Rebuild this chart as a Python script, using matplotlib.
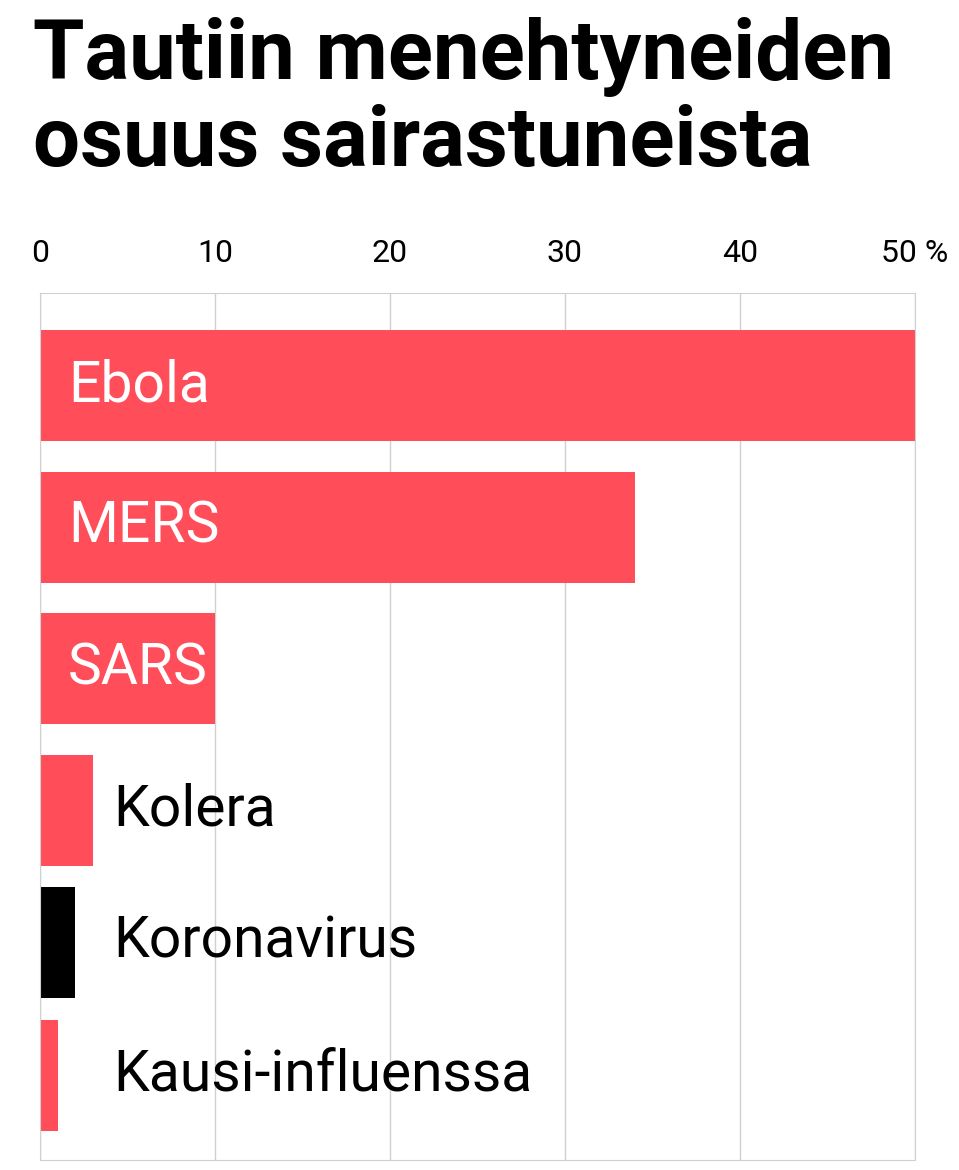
import matplotlib.pyplot as plt

plt.rcParams['font.family'] = 'Roboto'

taudit = ['Ebola', 'MERS', 'SARS', 'Kolera', 'Koronavirus', 'Kausi-influenssa']
osuus = [50, 34, 10, 3, 2, 1]
varit = ['#ff4d5a', '#ff4d5a', '#ff4d5a', '#ff4d5a', '#000000', '#ff4d5a']
sisalla = [True, True, True, False, False, False]
tikit = [0, 10, 20, 30, 40, 50]
tikkitekstit = ['0', '10', '20', '30', '40', '50 %']

# rivien paikat (alarivit hieman tiheämmässä kuten alkuperäisessä)
rivit = [0, 1, 2, 3, 3.935, 4.875]

fig = plt.figure(figsize=(9.59, 11.7), dpi=100)
ax = fig.add_axes([40/959, 1 - 1160/1170, 875/959, 867/1170])

ax.barh(rivit, osuus, height=0.7845, color=varit, zorder=2)
for i, (nimi, arvo) in enumerate(zip(taudit, osuus)):
    if sisalla[i]:
        ax.text(1.6, rivit[i], nimi, color='white', fontsize=41, va='center', ha='left', zorder=3)
    else:
        ax.text(4.2, rivit[i], nimi, color='black', fontsize=41, va='center', ha='left', zorder=3)

ax.set_xlim(0, 50)
ax.set_ylim(5.473, -0.654)
ax.set_yticks([])
ax.set_xticks(tikit)
ax.set_xticklabels(tikkitekstit, fontsize=23)
ax.xaxis.tick_top()
ax.tick_params(axis='x', length=0, pad=18)
ax.grid(axis='x', color='#d0d0d0', lw=1, zorder=0)
for s in ax.spines.values():
    s.set_color('#d0d0d0')

fig.text(33/959, 1 - 100/1170, 'Tautiin menehtyneiden\nosuus sairastuneista',
         fontsize=60, fontweight='bold', va='center', ha='left', linespacing=1.1)

fig.savefig('out.png', dpi=100)
